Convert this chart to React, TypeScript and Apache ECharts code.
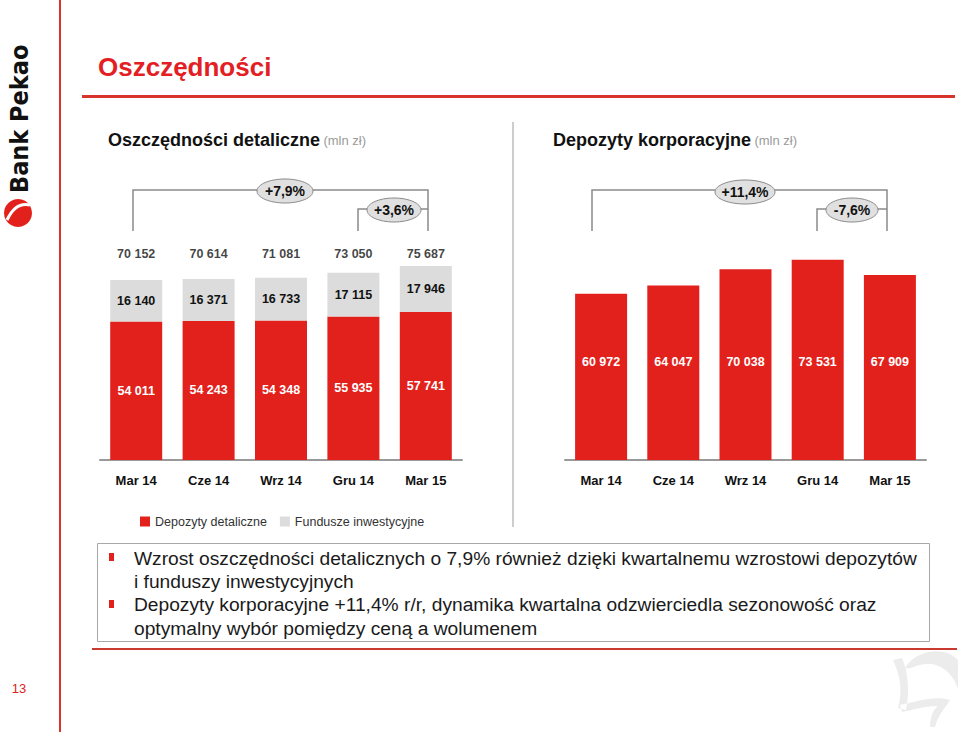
import React, { useEffect, useRef } from "react";
import * as echarts from "echarts";

const categories = ["Mar 14", "Cze 14", "Wrz 14", "Gru 14", "Mar 15"];
const retailDeposits = [54011, 54243, 54348, 55935, 57741];
const investmentFunds = [16140, 16371, 16733, 17115, 17946];
const retailTotals = [70152, 70614, 71081, 73050, 75687];
const corporateDeposits = [60972, 64047, 70038, 73531, 67909];
const legendNames = ["Depozyty detaliczne", "Fundusze inwestycyjne"];
const bulletLines = [
  "Wzrost oszczędności detalicznych o 7,9% również dzięki kwartalnemu wzrostowi depozytów",
  "i funduszy inwestycyjnych",
  "Depozyty korporacyjne +11,4% r/r, dynamika kwartalna odzwierciedla sezonowość oraz",
  "optymalny wybór pomiędzy ceną a wolumenem",
];

const RED = "#e2211c";
const GREY_BAR = "#dcdcdc";
const FONT = "'Liberation Sans', Arial, Helvetica, sans-serif";
const TOTAL_LABEL_LEVEL = 80300;

const fmt = (n: number) => String(n).replace(/\B(?=(\d{3})+(?!\d))/g, " ");

const BISON =
  "M905 668 C915 650 945 645 958 660 L958 690 C955 675 940 662 925 664 C915 665 910 670 905 668 Z " +
  "M893 660 C900 675 903 690 898 708 L906 710 C910 690 908 672 902 658 Z " +
  "M900 705 C915 702 935 695 950 700 C945 708 938 715 935 727 L930 727 C930 715 935 708 938 706 C925 706 912 710 902 712 Z";

let registered = false;

function bracket(points: number[][]) {
  return {
    type: "polyline",
    shape: { points },
    style: { stroke: "#8a8a8a", lineWidth: 1.5, fill: null },
    z: 10,
  };
}

function bubble(cx: number, cy: number, rx: number, text: string) {
  return [
    {
      type: "ellipse",
      shape: { cx, cy, rx, ry: 12 },
      style: { fill: "#e0e0e0", stroke: "#8a8a8a", lineWidth: 1 },
      z: 11,
    },
    {
      type: "text",
      x: cx,
      y: cy,
      style: {
        text,
        fontSize: 14,
        fontWeight: "bold",
        fontFamily: FONT,
        fill: "#111",
        align: "center",
        verticalAlign: "middle",
      },
      z: 12,
    },
  ];
}

export default function App() {
  const ref = useRef<HTMLDivElement>(null);

  useEffect(() => {
    if (!ref.current) return;
    if (!registered) {
      echarts.graphic.registerShape("bison", echarts.graphic.extendPath(BISON, {}) as any);
      registered = true;
    }
    const chart = echarts.init(ref.current, null, { renderer: "svg" });

    const axisCommon = {
      type: "category",
      data: categories,
      axisLine: { lineStyle: { color: "#999", width: 2 } },
      axisTick: { show: false },
      axisLabel: {
        fontSize: 13,
        fontWeight: "bold",
        color: "#111",
        fontFamily: FONT,
        margin: 14,
      },
    };

    const barLabel = (color: string) => ({
      show: true,
      position: "inside",
      color,
      fontSize: 12.5,
      fontWeight: "bold",
      fontFamily: FONT,
      formatter: (p: any) => fmt(p.value),
    });

    const graphic: any[] = [
      { type: "rect", shape: { x: 59, y: 0, width: 2, height: 732 }, style: { fill: "#d9342b" } },
      {
        type: "text",
        x: 19,
        y: 193,
        rotation: Math.PI / 2,
        style: {
          text: "Bank Pekao",
          fontSize: 25,
          fontWeight: "bold",
          fontFamily: "'DejaVu Sans Condensed', Arial, sans-serif",
          fill: "#111",
          align: "left",
          verticalAlign: "middle",
        },
      },
      { type: "circle", shape: { cx: 18, cy: 213, r: 14 }, style: { fill: RED } },
      {
        type: "bezierCurve",
        shape: { x1: 7, y1: 220, cpx1: 14, cpy1: 205, cpx2: 22, cpy2: 203, x2: 30, y2: 205 },
        style: { stroke: "#fff", lineWidth: 3, fill: null },
      },
      {
        type: "text",
        x: 98,
        y: 67,
        style: {
          text: "Oszczędności",
          fontSize: 26,
          fontWeight: "bold",
          fontFamily: FONT,
          fill: "#e31e24",
          verticalAlign: "middle",
        },
      },
      { type: "rect", shape: { x: 82, y: 95, width: 873, height: 3 }, style: { fill: "#d9342b" } },
      {
        type: "line",
        shape: { x1: 513, y1: 122, x2: 513, y2: 527 },
        style: { stroke: "#9a9a9a", lineWidth: 1 },
      },
      {
        type: "text",
        x: 108,
        y: 140,
        style: {
          text: "{a|Oszczędności detaliczne} {b|(mln zł)}",
          verticalAlign: "middle",
          rich: {
            a: { fontSize: 18, fontWeight: "bold", fontFamily: FONT, fill: "#111" },
            b: { fontSize: 13, fontFamily: FONT, fill: "#9a9a9a" },
          },
        },
      },
      {
        type: "text",
        x: 553,
        y: 140,
        style: {
          text: "{a|Depozyty korporacyjne} {b|(mln zł)}",
          verticalAlign: "middle",
          rich: {
            a: { fontSize: 18, fontWeight: "bold", fontFamily: FONT, fill: "#111" },
            b: { fontSize: 13, fontFamily: FONT, fill: "#9a9a9a" },
          },
        },
      },
      bracket([[133, 231], [133, 190], [428, 190], [428, 231]]),
      bracket([[358, 231], [358, 209], [428, 209]]),
      ...bubble(285, 191, 28, "+7,9%"),
      ...bubble(394, 210, 27, "+3,6%"),
      bracket([[592, 231], [592, 190], [887, 190], [887, 231]]),
      bracket([[817, 231], [817, 209], [887, 209]]),
      ...bubble(745, 192, 30, "+11,4%"),
      ...bubble(852, 210, 26, "-7,6%"),
      {
        type: "rect",
        shape: { x: 97.5, y: 543.5, width: 832, height: 98 },
        style: { fill: "#fff", stroke: "#a8a8a8", lineWidth: 1 },
      },
      { type: "rect", shape: { x: 109, y: 553, width: 5, height: 8 }, style: { fill: RED }, z: 5 },
      { type: "rect", shape: { x: 109, y: 600, width: 5, height: 8 }, style: { fill: RED }, z: 5 },
      ...bulletLines.map((t, i) => ({
        type: "text",
        x: 134,
        y: [558, 581, 604, 628][i],
        z: 5,
        style: {
          text: t,
          fontSize: 19.2,
          fontFamily: FONT,
          fill: "#1a1a1a",
          verticalAlign: "middle",
        },
      })),
      { type: "rect", shape: { x: 92, y: 648, width: 865, height: 2 }, style: { fill: "#c8392f" } },
      {
        type: "text",
        x: 19,
        y: 688,
        style: {
          text: "13",
          fontSize: 13,
          fontFamily: FONT,
          fill: "#d22",
          align: "center",
          verticalAlign: "middle",
        },
      },
      { type: "bison", x: 0, y: 0, style: { fill: "#ececec" } },
    ];

    chart.setOption({
      animation: false,
      textStyle: { fontFamily: FONT },
      grid: [
        { left: 100, top: 242, width: 362, height: 218 },
        { left: 565, top: 242, width: 361, height: 218 },
      ],
      xAxis: [
        { ...axisCommon, gridIndex: 0 },
        { ...axisCommon, gridIndex: 1 },
      ],
      yAxis: [
        { type: "value", gridIndex: 0, min: 0, max: 85000, show: false, splitLine: { show: false } },
        { type: "value", gridIndex: 1, min: 0, max: 80000, show: false, splitLine: { show: false } },
      ],
      legend: {
        data: legendNames,
        left: 135,
        top: 510,
        icon: "rect",
        itemWidth: 10,
        itemHeight: 10,
        itemGap: 13,
        textStyle: { fontSize: 12.5, color: "#333", fontFamily: FONT },
        selectedMode: false,
      },
      series: [
        {
          name: legendNames[0],
          type: "bar",
          stack: "retail",
          xAxisIndex: 0,
          yAxisIndex: 0,
          barWidth: 52,
          data: retailDeposits,
          itemStyle: { color: RED },
          label: barLabel("#fff"),
        },
        {
          name: legendNames[1],
          type: "bar",
          stack: "retail",
          xAxisIndex: 0,
          yAxisIndex: 0,
          barWidth: 52,
          data: investmentFunds,
          itemStyle: { color: GREY_BAR },
          label: barLabel("#111"),
        },
        {
          name: "Suma",
          type: "scatter",
          xAxisIndex: 0,
          yAxisIndex: 0,
          symbolSize: 1,
          itemStyle: { color: "transparent" },
          data: retailTotals.map((t, i) => [i, TOTAL_LABEL_LEVEL, t]),
          label: {
            show: true,
            position: "inside",
            color: "#111",
            fontSize: 12.5,
            fontWeight: "bold",
            fontFamily: FONT,
            formatter: (p: any) => fmt(p.value[2]),
          },
        },
        {
          name: "Depozyty korporacyjne",
          type: "bar",
          xAxisIndex: 1,
          yAxisIndex: 1,
          barWidth: 52,
          data: corporateDeposits,
          itemStyle: { color: RED },
          label: {
            ...barLabel("#fff"),
            position: "insideBottom",
            distance: 92,
          },
        },
      ],
      graphic,
    });

    return () => chart.dispose();
  }, []);

  return (
    <div
      ref={ref}
      style={{ position: "absolute", left: 0, top: 0, width: 960, height: 734 }}
    />
  );
}
